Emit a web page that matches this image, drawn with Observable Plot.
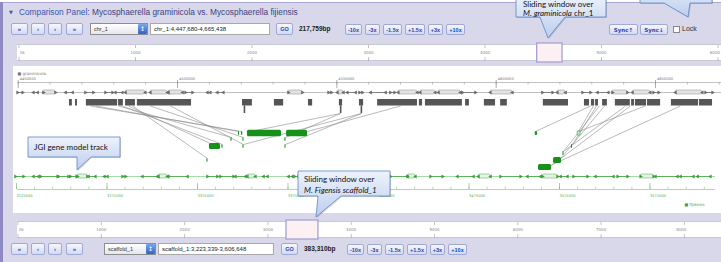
<!DOCTYPE html>
<html><head><meta charset="utf-8">
<script src="https://cdn.jsdelivr.net/npm/d3@7"></script>
<script src="https://cdn.jsdelivr.net/npm/@observablehq/plot@0.6"></script>
<style>
html,body{margin:0;padding:0;background:#fff;width:721px;height:262px;overflow:hidden}
#root{position:relative;width:721px;height:262px;overflow:hidden;font-family:"Liberation Sans",Arial,sans-serif}
#root > *{position:absolute}
.panel{left:0;top:2px;width:721px;height:260px;background:#d9d7ea;border-top:1px solid #aaa6d2;box-sizing:border-box}
.lborder{left:0;top:2px;width:3px;height:260px;background:#8e89c2}
.white{background:#fff}
.ruler{background:#fff;border-top:1px solid #c9c9d6;border-bottom:1px solid #c9c9d6;box-sizing:border-box}
.btn{height:12px;box-sizing:border-box;border:1px solid #a0a9d5;border-radius:2px;background:linear-gradient(#f6f7fd,#d3daf1);color:#2a47ad;font-size:5.5px;font-weight:bold;display:flex;align-items:center;justify-content:center;white-space:nowrap}
.sel{height:12px;box-sizing:border-box;border:1px solid #8d8d8d;background:linear-gradient(#fff,#e6e6ec);font-size:5.5px;color:#333;padding-left:3px;line-height:10px;white-space:nowrap;overflow:hidden}
.spin{height:10px;box-sizing:border-box;background:linear-gradient(#7aa6ec,#2f63c8);color:#fff;font-size:6px;line-height:10px;text-align:center;border-radius:1px;font-family:"DejaVu Sans"}
.inp{height:12px;box-sizing:border-box;border:1px solid #a8a8a8;background:#fff;font-size:6px;color:#222;padding-left:3px;line-height:10px;white-space:nowrap;overflow:hidden}
.bp{font-size:6.5px;font-weight:bold;color:#222;line-height:12px;white-space:nowrap}
.hdr{font-size:8.3px;color:#3b55b0;white-space:nowrap;line-height:10px}
.chk{width:7px;height:7px;box-sizing:border-box;border:1px solid #888;background:#fff}
</style></head><body><div id="root"></div>
<script>
// ================= DATA =================
const gramView = [4447.68, 4665.44];            // kb  (chr_1:4,447,680-4,665,438)
const fijView = [3223.339, 3606.648];           // kb  (scaffold_1:3,223,339-3,606,648)
const gramChromTicks = [0, 1000, 2000, 3000, 4000, 5000, 6000];          // kb
const fijChromTicks = [0, 1000, 2000, 3000, 4000, 5000, 6000, 7000, 8000]; // kb
const gramAxisTicks = [4450, 4500, 4550, 4600, 4650];                     // kb
const fijAxisTicks = [3225, 3275, 3325, 3375, 3425, 3475, 3525, 3575];   // kb

// graminicola syntenic blocks [start kb, end kb]
const gramBlocks = [
  [4466.1,4467.0],[4468.0,4468.6],[4471.4,4481.2],[4481.5,4483.0],[4483.7,4486.8],
  [4487.4,4504.4],[4520.4,4523.5],[4530.4,4533.3],[4541.1,4542.4],[4550.8,4551.8],
  [4557.1,4558.4],[4562.8,4575.3],[4575.9,4576.9],[4577.8,4589.4],[4590.4,4591.6],
  [4596.3,4599.8],[4601.4,4603.5],[4614.8,4622.7],[4627.7,4629.3],[4629.9,4630.9],
  [4631.2,4632.1],[4633.4,4634.9],[4637.4,4642.1],[4642.5,4643.4],[4643.7,4647.2],
  [4647.5,4651.6],[4655.0,4663.5],[4663.8,4667.9]
];
const gramStems = [4521.0, 4551.2, 4557.7];

// gene models [start kb, end kb, strand, has exon box]
const gramGenes = [
  [4449.8,4451.4,"+",0],[4454.8,4456.1,"-",0],[4457.9,4461.7,"+",1],[4464.9,4467.1,"-",0],
  [4471.1,4473.6,"+",0],[4477.4,4479.6,"+",0],[4480.5,4482.7,"-",0],[4483.7,4489.9,"-",1],
  [4491.5,4496.9,"-",1],[4497.2,4501.6,"-",1],[4502.5,4504.7,"+",0],[4509.4,4510.3,"-",0],
  [4512.5,4514.4,"-",0],[4534.8,4539.2,"+",1],[4547.4,4548.3,"+",0],[4550.2,4552.1,"-",1],
  [4553.3,4555.9,"-",0],[4557.1,4558.0,"+",0],[4560.6,4565.3,"-",0],[4566.8,4568.1,"+",0],
  [4569.3,4575.3,"-",1],[4576.2,4580.9,"-",1],[4581.9,4588.8,"-",1],[4589.4,4593.5,"+",0],
  [4598.2,4605.1,"-",1],[4614.5,4617.7,"+",0],[4619.2,4621.8,"-",1],[4627.1,4629.6,"+",0],
  [4631.8,4635.2,"-",0],[4636.5,4641.2,"+",1],[4642.8,4648.4,"-",1],[4649.4,4651.0,"+",0],
  [4656.3,4664.7,"-",1],[4665.7,4667.9,"+",0]
];
const fijGenes = [
  [3224.4,3228.9,"+",0],[3234.4,3237.2,"-",0],[3238.3,3247.7,"+",0],[3248.2,3253.7,"+",0],
  [3254.8,3258.2,"+",0],[3258.7,3264.2,"+",1],[3264.8,3268.6,"-",0],[3273.6,3275.3,"-",0],
  [3283.6,3285.2,"+",0],[3294.6,3302.9,"-",0],[3303.5,3308.4,"-",1],[3309.0,3319.5,"-",0],
  [3330.5,3336.0,"+",0],[3337.7,3344.9,"+",0],[3346.0,3351.5,"-",0],[3352.6,3357.0,"-",1],
  [3361.5,3363.7,"-",0],[3375.3,3377.5,"-",0],[3378.6,3380.8,"+",0],[3381.9,3388.5,"-",1],
  [3393.0,3404.0,"+",0],[3409.5,3417.8,"-",0],[3422.2,3430.0,"-",1],[3431.6,3441.0,"+",0],
  [3441.0,3445.4,"-",1],[3453.7,3460.4,"+",0],[3468.6,3477.5,"-",0],[3480.3,3486.9,"-",1],
  [3492.4,3503.5,"+",0],[3507.3,3514.5,"-",0],[3515.6,3523.9,"+",1],[3525.6,3529.4,"-",0],
  [3532.7,3540.5,"+",0],[3544.9,3554.8,"-",0],[3557.1,3562.6,"+",0],[3569.8,3577.0,"+",1],
  [3578.0,3590.2,"-",0],[3591.9,3599.0,"-",0],[3601.3,3608.4,"-",0]
];

// fijiensis matched blocks [start kb, end kb, stacking row, kind]
const fijBlocks = [
  [3352.6,3371.4,0,"big"],[3374.2,3385.8,0,"big"],[3349.3,3350.0,0,"mark"],[3347.6,3348.2,0,"mark"],
  [3511.6,3512.9,0,"mark"],[3535.0,3536.6,0,"open"],
  [3343.5,3344.1,1,"mark"],[3350.1,3350.7,1,"mark"],[3373.3,3373.9,1,"mark"],
  [3331.6,3337.7,2,"box"],[3338.5,3339.1,2,"mark"],[3350.1,3350.7,2,"mark"],[3373.3,3373.9,2,"mark"],[3531.6,3532.2,2,"mark"],
  [3526.9,3527.5,3,"mark"],
  [3330.2,3330.8,4,"mark"],[3521.7,3526.1,4,"box"],
  [3513.4,3520.6,5,"box"]
];

// links [graminicola kb, fijiensis kb, fijiensis row, from stem]
const links = [
  [4472.7,3349.3,0,0],[4474.3,3347.7,0,0],[4481.5,3343.8,1,0],[4482.7,3338.8,2,0],
  [4484.6,3333.3,2,0],[4485.9,3330.5,4,0],[4491.5,3350.4,1,0],[4497.8,3350.4,2,0],
  [4551.1,3373.6,1,1],[4551.1,3354.3,0,1],[4557.7,3373.6,2,1],[4557.7,3350.4,2,1],
  [4570.0,3385.8,0,0],[4629.6,3511.8,0,0],[4630.5,3535.5,0,0],[4631.5,3532.2,2,0],
  [4632.4,3527.2,3,0],[4634.0,3525.6,4,0],[4640.6,3527.2,3,0],[4642.1,3520.6,5,0],
  [4646.8,3535.6,0,0],[4657.8,3520.0,5,0]
];

const zoomLabels = ["-10x","-3x","-1.5x","+1.5x","+3x","+10x"];
const navLabels = ["\u00AB","\u2039","\u203A","\u00BB"];

// ================= LAYOUT =================
const root = document.getElementById("root");
function add(cls, l, t, w, h, text, extra) {
  const d = document.createElement("div");
  d.className = cls;
  d.style.left = l + "px"; d.style.top = t + "px";
  if (w != null) d.style.width = w + "px";
  if (h != null) d.style.height = h + "px";
  if (text != null) d.textContent = text;
  if (extra) Object.assign(d.style, extra);
  root.appendChild(d);
  return d;
}
add("panel", 0, 2, 721, 260);
add("lborder", 0, 2, 3, 260);
// header
add("hdr", 9, 7, null, null, "\u25BC", {fontSize:"5px", fontFamily:"DejaVu Sans"});
add("hdr", 19, 7, null, null, "Comparison Panel:");
add("hdr", 92, 7, null, null, "Mycosphaerella graminicola vs. Mycosphaerella fijiensis", {color:"#39457e"});

function controlRow(y, sel, selL, selW, inpText, inpW, bp, goL, zoomL) {
  const navPos = [[11,17],[31,14],[48,14],[66,17]];
  navLabels.forEach((t,i) => add("btn", navPos[i][0], y, navPos[i][1], 12, t, {fontSize:"6px"}));
  add("sel", selL, y, selW, 12, sel);
  add("spin", selL + selW - 10, y + 1, 9, 10, "\u2195");
  add("inp", selL + selW + 2, y, inpW, 12, inpText);
  add("btn", goL, y, 17, 12, "GO");
  add("bp", goL + 23, y, null, 12, bp);
  const zp = [[0,17],[20,15],[38,19],[60,20],[83,15],[101,19]];
  zoomLabels.forEach((t,i) => add("btn", zoomL + zp[i][0], y + 1, zp[i][1], 11, t));
}
controlRow(23, "chr_1", 90, 58, "chr_1:4,447,680-4,665,438", 120, "217,759bp", 276, 345);
add("btn", 609, 24, 29, 11, "Sync\u2191", {fontFamily:"DejaVu Sans", fontSize:"5.5px"});
add("btn", 640, 24, 28, 11, "Sync\u2193", {fontFamily:"DejaVu Sans", fontSize:"5.5px"});
add("chk", 673, 26, null, null);
add("hdr", 682, 24, null, null, "Lock", {color:"#333", fontSize:"7px"});
controlRow(243, "scaffold_1", 104, 52, "scaffold_1:3,223,339-3,606,648", 116, "383,310bp", 281, 347);

add("ruler", 17, 44, 704, 17);
add("ruler", 17, 221, 704, 17);
add("white", 13, 66, 708, 147);

// ================= OVERVIEW RULERS =================
function overview(ticks, domain, range, win, top) {
  const last = ticks[ticks.length - 1];
  const p = Plot.plot({
    width: 704, height: 21, margin: 0,
    x: {domain, range, axis: null},
    y: {domain: [0, 21], range: [0, 21], axis: null},
    style: {background: "transparent", fontFamily: "DejaVu Sans", overflow: "visible"},
    marks: [
      Plot.rect([win], {x1: d => d[0], x2: d => d[1], y1: () => 1, y2: () => 20, fill: "#fcf0f2", stroke: "#a5a1d3", strokeWidth: 1.3}),
      Plot.ruleX(ticks, {y1: () => 3, y2: () => 6, stroke: "#9a9a9a", strokeWidth: 0.6}),
      Plot.ruleX(ticks, {y1: () => 15, y2: () => 19, stroke: "#9a9a9a", strokeWidth: 0.6}),
      Plot.text(ticks.filter(d => d > 0 && d < last), {x: d => d, y: () => 10.5, text: d => String(d), fontSize: 4, fill: "#8a8a8a"}),
      Plot.text([last], {x: d => d, y: () => 10.5, text: d => String(d), fontSize: 4, fill: "#8a8a8a", textAnchor: "end", dx: 2}),
      Plot.text(ticks.filter(d => d === 0), {x: d => d, y: () => 10.5, text: () => "0k", fontSize: 4, fill: "#8a8a8a", textAnchor: "start", dx: 1})
    ]
  });
  p.style.position = "absolute"; p.style.left = "17px"; p.style.top = top + "px";
  root.appendChild(p);
}
overview(gramChromTicks, [0, 6000], [1.5, 700.5], gramView, 42);
overview(fijChromTicks, [0, 8000], [0.5, 666.9], fijView, 219);

// ================= MAIN COMPARISON TRACKS =================
const X0 = 10.3, X1 = 704.2;
const xpx = d3.scaleLinear(gramView, [X0, X1]);
const leftKb = xpx.invert(17), rightKb = xpx.invert(721);
const fijToGram = d3.scaleLinear(fijView, [xpx.invert(13.0), xpx.invert(706.8)]);
const L = {gramLabel: 7, gramAxisLabel: 12, gramAxis: 16, gramGenes: 26, blockTop: 33, blockBot: 39.5,
           stemBot: 47, fijGenes: 110, fijAxis: 123, fijAxisLabel: 129.5, fijLabel: 138};
const rowY = [67, 73, 80, 87, 94, 101];
const rowH = {big: 6.5, box: 6, mark: 4, open: 4};

function arrowheads(genes, conv) {
  const out = [];
  for (const g of genes) {
    const rot = g[2] === "+" ? 90 : -90;
    out.push({x: conv(g[0]), rot}, {x: conv(g[1]), rot});
  }
  return out;
}
const id = d => d;
const gramHeads = arrowheads(gramGenes, id);
const fijHeads = arrowheads(fijGenes, fijToGram);
const fijMinor = d3.range(fijAxisTicks[0], 3610, 10);
const gramMinor = d3.range(gramAxisTicks[0], rightKb, 10);

const main = Plot.plot({
  width: 721, height: 147, margin: 0,
  x: {domain: gramView, range: [X0, X1], axis: null},
  y: {domain: [0, 147], range: [0, 147], axis: null},
  style: {background: "transparent", fontFamily: "DejaVu Sans", overflow: "visible"},
  marks: [
    // graminicola ruler
    Plot.text(["\u25A0 graminicola"], {x: () => leftKb, y: () => L.gramLabel, text: d => d, textAnchor: "start", fontSize: 4, fill: "#777"}),
    Plot.ruleY([0], {y: () => L.gramAxis, x1: () => gramAxisTicks[0], x2: () => rightKb, stroke: "#9a9a9a", strokeWidth: 0.6}),
    Plot.ruleX(gramMinor, {y1: () => L.gramAxis, y2: () => L.gramAxis + 2.5, stroke: "#9a9a9a", strokeWidth: 0.6}),
    Plot.ruleX(gramAxisTicks, {y1: () => L.gramAxis - 2, y2: () => L.gramAxis + 6, stroke: "#8a8a8a", strokeWidth: 0.7}),
    Plot.text(gramAxisTicks, {x: d => d, y: () => L.gramAxisLabel, text: d => String(d * 1000), textAnchor: "start", dx: 1.5, fontSize: 3.6, fill: "#777"}),
    // graminicola genes
    Plot.ruleY([0], {y: () => L.gramGenes, x1: () => leftKb, x2: () => rightKb, stroke: "#a8a8a8", strokeWidth: 0.7}),
    Plot.ruleY(gramGenes, {y: () => L.gramGenes, x1: d => d[0], x2: d => d[1], stroke: "#6e6e6e", strokeWidth: 0.8}),
    Plot.rect(gramGenes.filter(g => g[3]), {x1: d => d[0], x2: d => d[1], y1: () => L.gramGenes - 2, y2: () => L.gramGenes + 2, fill: "#e3e3e3", stroke: "#8a8a8a", strokeWidth: 0.5, rx: 1.5}),
    Plot.dot(gramHeads, {x: "x", y: () => L.gramGenes, rotate: "rot", symbol: "triangle", r: 1.5, fill: "#6a6a6a", stroke: "none"}),
    // links
    Plot.link(links, {x1: d => d[0], y1: d => d[3] ? L.stemBot : L.blockBot, x2: d => fijToGram(d[1]), y2: d => rowY[d[2]] - rowH.mark / 2, stroke: "#8c8c8c", strokeWidth: 0.6}),
    // graminicola blocks
    Plot.rect(gramBlocks, {x1: d => d[0], x2: d => d[1], y1: () => L.blockTop, y2: () => L.blockBot, fill: "#555"}),
    Plot.ruleX(gramStems, {y1: () => L.blockBot, y2: () => L.stemBot, stroke: "#555", strokeWidth: 1.6}),
    // fijiensis blocks
    Plot.rect(fijBlocks.filter(d => d[3] !== "open"), {
      x1: d => fijToGram(d[0]), x2: d => fijToGram(d[1]),
      y1: d => rowY[d[2]] - rowH[d[3]] / 2, y2: d => rowY[d[2]] + rowH[d[3]] / 2,
      fill: "#17911a", rx: 1.5
    }),
    Plot.rect(fijBlocks.filter(d => d[3] === "open"), {
      x1: d => fijToGram(d[0]), x2: d => fijToGram(d[1]),
      y1: d => rowY[d[2]] - 2, y2: d => rowY[d[2]] + 2,
      fill: "#cdebcd", stroke: "#3aa03a", strokeWidth: 0.6
    }),
    // fijiensis genes
    Plot.ruleY([0], {y: () => L.fijGenes, x1: () => leftKb, x2: () => xpx.invert(715), stroke: "#8fd08f", strokeWidth: 0.8}),
    Plot.ruleY(fijGenes, {y: () => L.fijGenes, x1: d => fijToGram(d[0]), x2: d => fijToGram(d[1]), stroke: "#4aa64a", strokeWidth: 0.8}),
    Plot.rect(fijGenes.filter(g => g[3]), {x1: d => fijToGram(d[0]), x2: d => fijToGram(d[1]), y1: () => L.fijGenes - 2, y2: () => L.fijGenes + 2, fill: "#e3f4e3", stroke: "#4aa84a", strokeWidth: 0.5, rx: 1.5}),
    Plot.dot(fijHeads, {x: "x", y: () => L.fijGenes, rotate: "rot", symbol: "triangle", r: 1.5, fill: "#3e9e3e", stroke: "none"}),
    // fijiensis ruler
    Plot.ruleY([0], {y: () => L.fijAxis, x1: () => leftKb, x2: () => xpx.invert(715), stroke: "#86c986", strokeWidth: 0.7}),
    Plot.ruleX(fijMinor, {x: d => fijToGram(d), y1: () => L.fijAxis - 2.5, y2: () => L.fijAxis, stroke: "#86c986", strokeWidth: 0.6}),
    Plot.ruleX(fijAxisTicks, {x: d => fijToGram(d), y1: () => L.fijAxis - 6, y2: () => L.fijAxis, stroke: "#74bf74", strokeWidth: 0.7}),
    Plot.text(fijAxisTicks, {x: d => fijToGram(d), y: () => L.fijAxisLabel, text: d => String(d * 1000), textAnchor: "start", fontSize: 3.6, fill: "#55ad55"}),
    Plot.text(["\u25A0 fijiensis"], {x: () => xpx.invert(684), y: () => L.fijLabel, text: d => d, textAnchor: "start", fontSize: 4, fill: "#3e9e3e"})
  ]
});
main.style.position = "absolute"; main.style.left = "0px"; main.style.top = "66px";
root.appendChild(main);

// ================= CALLOUT ANNOTATIONS =================
const callouts = [
  {x: 516, y: -6, w: 90, h: 23, b1: 540, b2: 565, tx: 548, ty: 38,
   lines: [[["Sliding window over", false]], [["M. graminicola", true], [" chr_1", false]]], ly: [4.5, 13.5], lx: 523},
  {x: 640, y: -20, w: 72, h: 23, b1: 664, b2: 690, tx: 688, ty: 17, lines: [], ly: [], lx: 0},
  {x: 28, y: 137, w: 92, h: 20, b1: 77, b2: 91, tx: 77, ty: 170,
   lines: [[["JGI gene model track", false]]], ly: [147], lx: 34},
  {x: 298, y: 171, w: 92, h: 25, b1: 318, b2: 341, tx: 316, ty: 217,
   lines: [[["Sliding window over", false]], [["M. Figensis scaffold_1", true]]], ly: [179.5, 190], lx: 304}
];
const ov = d3.create("svg").attr("width", 721).attr("height", 262)
  .style("position", "absolute").style("left", "0px").style("top", "0px").style("pointer-events", "none");
const grad = ov.append("defs").append("linearGradient").attr("id", "cg").attr("x1", 0).attr("y1", 0).attr("x2", 0).attr("y2", 1);
grad.append("stop").attr("offset", "0%").attr("stop-color", "#eef3fc");
grad.append("stop").attr("offset", "100%").attr("stop-color", "#bccdee");
for (const c of callouts) {
  const path = `M${c.x},${c.y} H${c.x + c.w} V${c.y + c.h} H${c.b2} L${c.tx},${c.ty} L${c.b1},${c.y + c.h} H${c.x} Z`;
  ov.append("path").attr("d", path).attr("transform", "translate(1,1)").attr("fill", "rgba(0,0,0,0.15)");
  ov.append("path").attr("d", path).attr("fill", "url(#cg)").attr("stroke", "#5a86c7").attr("stroke-width", 0.8);
  c.lines.forEach((ln, i) => {
    const t = ov.append("text").attr("x", c.lx).attr("y", c.ly[i]).attr("dy", "0.35em")
      .attr("font-family", "Lato, 'Open Sans', sans-serif").attr("font-size", 8).attr("fill", "#111");
    ln.forEach(([s, it]) => t.append("tspan").text(s).attr("font-style", it ? "italic" : "normal"));
  });
}
root.appendChild(ov.node());
</script></body></html>
